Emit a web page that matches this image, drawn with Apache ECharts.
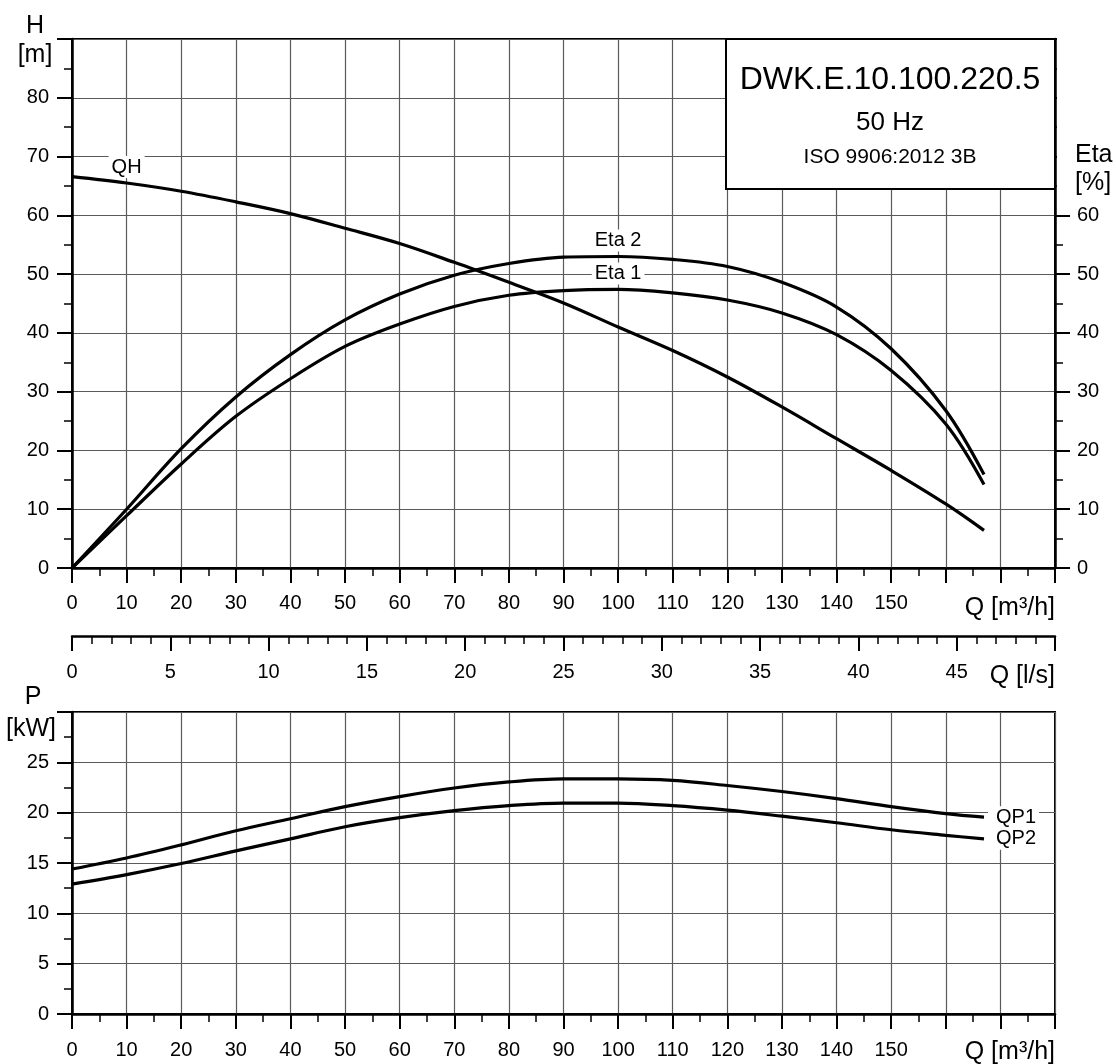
<!DOCTYPE html>
<html>
<head>
<meta charset="utf-8">
<script src="https://cdn.jsdelivr.net/npm/echarts@6/dist/echarts.min.js"></script>
<style>
  html, body { margin: 0; padding: 0; background: #fff; }
  #chartArea { width: 1116px; height: 1064px; }
</style>
</head>
<body>
<div id="chartArea"></div>
<script>
// flow in m3/h, shared by all curves
var q    = [0, 10, 20, 30, 40, 50, 60, 70, 80, 90, 100, 110, 120, 130, 140, 150, 160, 167];
var qh   = [66.6, 65.5, 64.1, 62.3, 60.3, 57.8, 55.2, 52.0, 48.6, 45.1, 41.0, 37.0, 32.5, 27.4, 22.0, 16.6, 10.9, 6.4];
var eta1 = [0, 8.9, 17.7, 25.8, 32.2, 37.7, 41.5, 44.5, 46.4, 47.2, 47.4, 46.8, 45.6, 43.4, 39.7, 33.6, 24.5, 14.2];
var eta2 = [0, 10.0, 20.3, 29.1, 36.3, 42.2, 46.6, 49.8, 51.8, 52.9, 53.0, 52.5, 51.3, 48.6, 44.4, 37.3, 26.8, 15.9];
var qp1  = [14.4, 15.5, 16.8, 18.2, 19.4, 20.6, 21.6, 22.45, 23.05, 23.35, 23.35, 23.2, 22.7, 22.1, 21.4, 20.6, 19.9, 19.55];
var qp2  = [12.9, 13.85, 14.95, 16.2, 17.4, 18.6, 19.5, 20.2, 20.7, 20.95, 20.95, 20.7, 20.25, 19.65, 19.0, 18.3, 17.75, 17.4];

var titleLines = ['DWK.E.10.100.220.5', '50 Hz', 'ISO 9906:2012 3B'];

var FONT = 'Liberation Sans, Arial, sans-serif';
var black = '#000';
var gridColor = '#5a5a5a';

function pairs(ys) {
    return q.map(function(x, i) { return [x, ys[i]]; });
}

function tickAxis(opt) {
    var base = {
        axisLine : { show: true, onZero: false, lineStyle: { color: black, width: 2.5 } },
        axisTick : { show: true, length: 15, lineStyle: { color: black, width: 2 } },
        minorTick : { show: true, splitNumber: 2, length: 8, lineStyle: { color: black, width: 1.5 } },
        axisLabel : { color: black, fontSize: 20, fontFamily: FONT },
        splitLine : { show: true, lineStyle: { color: gridColor, width: 1.2 } }
    };
    return Object.assign(base, opt);
}

function curve(name, ys, xIdx, yIdx, extra) {
    return Object.assign({
        name: name,
        type: 'line',
        xAxisIndex: xIdx,
        yAxisIndex: yIdx,
        data: pairs(ys),
        smooth: 0.35,
        symbol: 'none',
        lineStyle: { color: black, width: 3.2 },
        z: 5
    }, extra || {});
}

function curveLabel(text, x, y) {
    return {
        symbol: 'circle',
        symbolSize: 0,
        itemStyle: { color: 'transparent' },
        label: {
            show: true,
            position: 'top',
            distance: 5,
            color: black,
            fontSize: 20,
            fontFamily: FONT,
            backgroundColor: '#fff',
            padding: [1, 3],
            formatter: text
        },
        data: [{ coord: [x, y] }]
    };
}

function endLabel(text) {
    return {
        show: true,
        formatter: text,
        distance: 4,
        color: black,
        fontSize: 20,
        fontFamily: FONT,
        backgroundColor: '#fff',
        padding: [1, 3, 1, 8]
    };
}

function txt(x, y, s, size, align) {
    return {
        type: 'text', x: x, y: y, z: 100,
        style: { text: s, fill: black, fontSize: size, fontFamily: FONT, align: align || 'center', verticalAlign: 'middle' }
    };
}

var myChart = echarts.init(document.getElementById('chartArea'), null, { renderer: 'canvas' });

var option = {
    animation: false,
    backgroundColor: '#fff',
    textStyle: { fontFamily: FONT },
    grid: [
        { left: 72, right: 61, top: 39, height: 529, show: true, borderColor: black, borderWidth: 2, backgroundColor: 'transparent' },
        { left: 72, right: 61, top: 635, height: 1, show: false },
        { left: 72, right: 61, top: 712, height: 302, show: true, borderColor: black, borderWidth: 2, backgroundColor: 'transparent' }
    ],
    xAxis: [
        tickAxis({ gridIndex: 0, type: 'value', min: 0, max: 180, interval: 10,
            axisLabel: { color: black, fontSize: 20, fontFamily: FONT, margin: 25,
                formatter: function(v) { return v <= 150 ? v : ''; } } }),
        tickAxis({ gridIndex: 1, type: 'value', min: 0, max: 50, interval: 5,
            minorTick: { show: true, splitNumber: 5, length: 8, lineStyle: { color: black, width: 1.5 } },
            splitLine: { show: false },
            axisLabel: { color: black, fontSize: 20, fontFamily: FONT, margin: 26,
                formatter: function(v) { return v <= 45 ? v : ''; } } }),
        tickAxis({ gridIndex: 2, type: 'value', min: 0, max: 180, interval: 10,
            axisLabel: { color: black, fontSize: 20, fontFamily: FONT, margin: 26,
                formatter: function(v) { return v <= 150 ? v : ''; } } })
    ],
    yAxis: [
        tickAxis({ gridIndex: 0, type: 'value', min: 0, max: 90, interval: 10,
            axisLabel: { color: black, fontSize: 20, fontFamily: FONT, margin: 23,
                formatter: function(v) { return v <= 80 ? v : ''; } } }),
        tickAxis({ gridIndex: 0, type: 'value', position: 'right', min: 0, max: 90, interval: 10,
            splitLine: { show: false },
            axisLabel: { color: black, fontSize: 20, fontFamily: FONT, margin: 22,
                formatter: function(v) { return v <= 60 ? v : ''; } } }),
        { gridIndex: 1, type: 'value', show: false },
        tickAxis({ gridIndex: 2, type: 'value', min: 0, max: 30, interval: 5,
            axisLabel: { color: black, fontSize: 20, fontFamily: FONT, margin: 23,
                formatter: function(v) { return v <= 25 ? v : ''; } } })
    ],
    series: [
        curve('QH', qh, 0, 0, { markPoint: curveLabel('QH', q[1], qh[1]) }),
        curve('Eta 1', eta1, 0, 1, { markPoint: curveLabel('Eta 1', q[10], eta1[10]) }),
        curve('Eta 2', eta2, 0, 1, { markPoint: curveLabel('Eta 2', q[10], eta2[10]) }),
        curve('QP1', qp1, 2, 3, { endLabel: endLabel('QP1') }),
        curve('QP2', qp2, 2, 3, { endLabel: endLabel('QP2') })
    ],
    graphic: [
        // the Eta scale carries no ticks above 60
        { type: 'rect', z: 95, shape: { x: 1057, y: 28, width: 20, height: 162 },
          style: { fill: '#fff' } },
        { type: 'rect', z: 90, shape: { x: 726, y: 39, width: 329, height: 150 },
          style: { fill: '#fff', stroke: black, lineWidth: 2 } },
        txt(890, 80, titleLines[0], 32),
        txt(890, 123, titleLines[1], 26),
        txt(890, 157, titleLines[2], 21),
        txt(35, 26, 'H', 25),
        txt(35, 55, '[m]', 25),
        txt(1075, 155, 'Eta', 25, 'left'),
        txt(1075, 183, '[%]', 25, 'left'),
        txt(1055, 608, 'Q [m³/h]', 25, 'right'),
        txt(1055, 676, 'Q [l/s]', 25, 'right'),
        txt(33, 697, 'P', 25),
        txt(31, 729, '[kW]', 25),
        txt(1055, 1052, 'Q [m³/h]', 25, 'right')
    ]
};

myChart.setOption(option, true);
</script>
</body>
</html>
